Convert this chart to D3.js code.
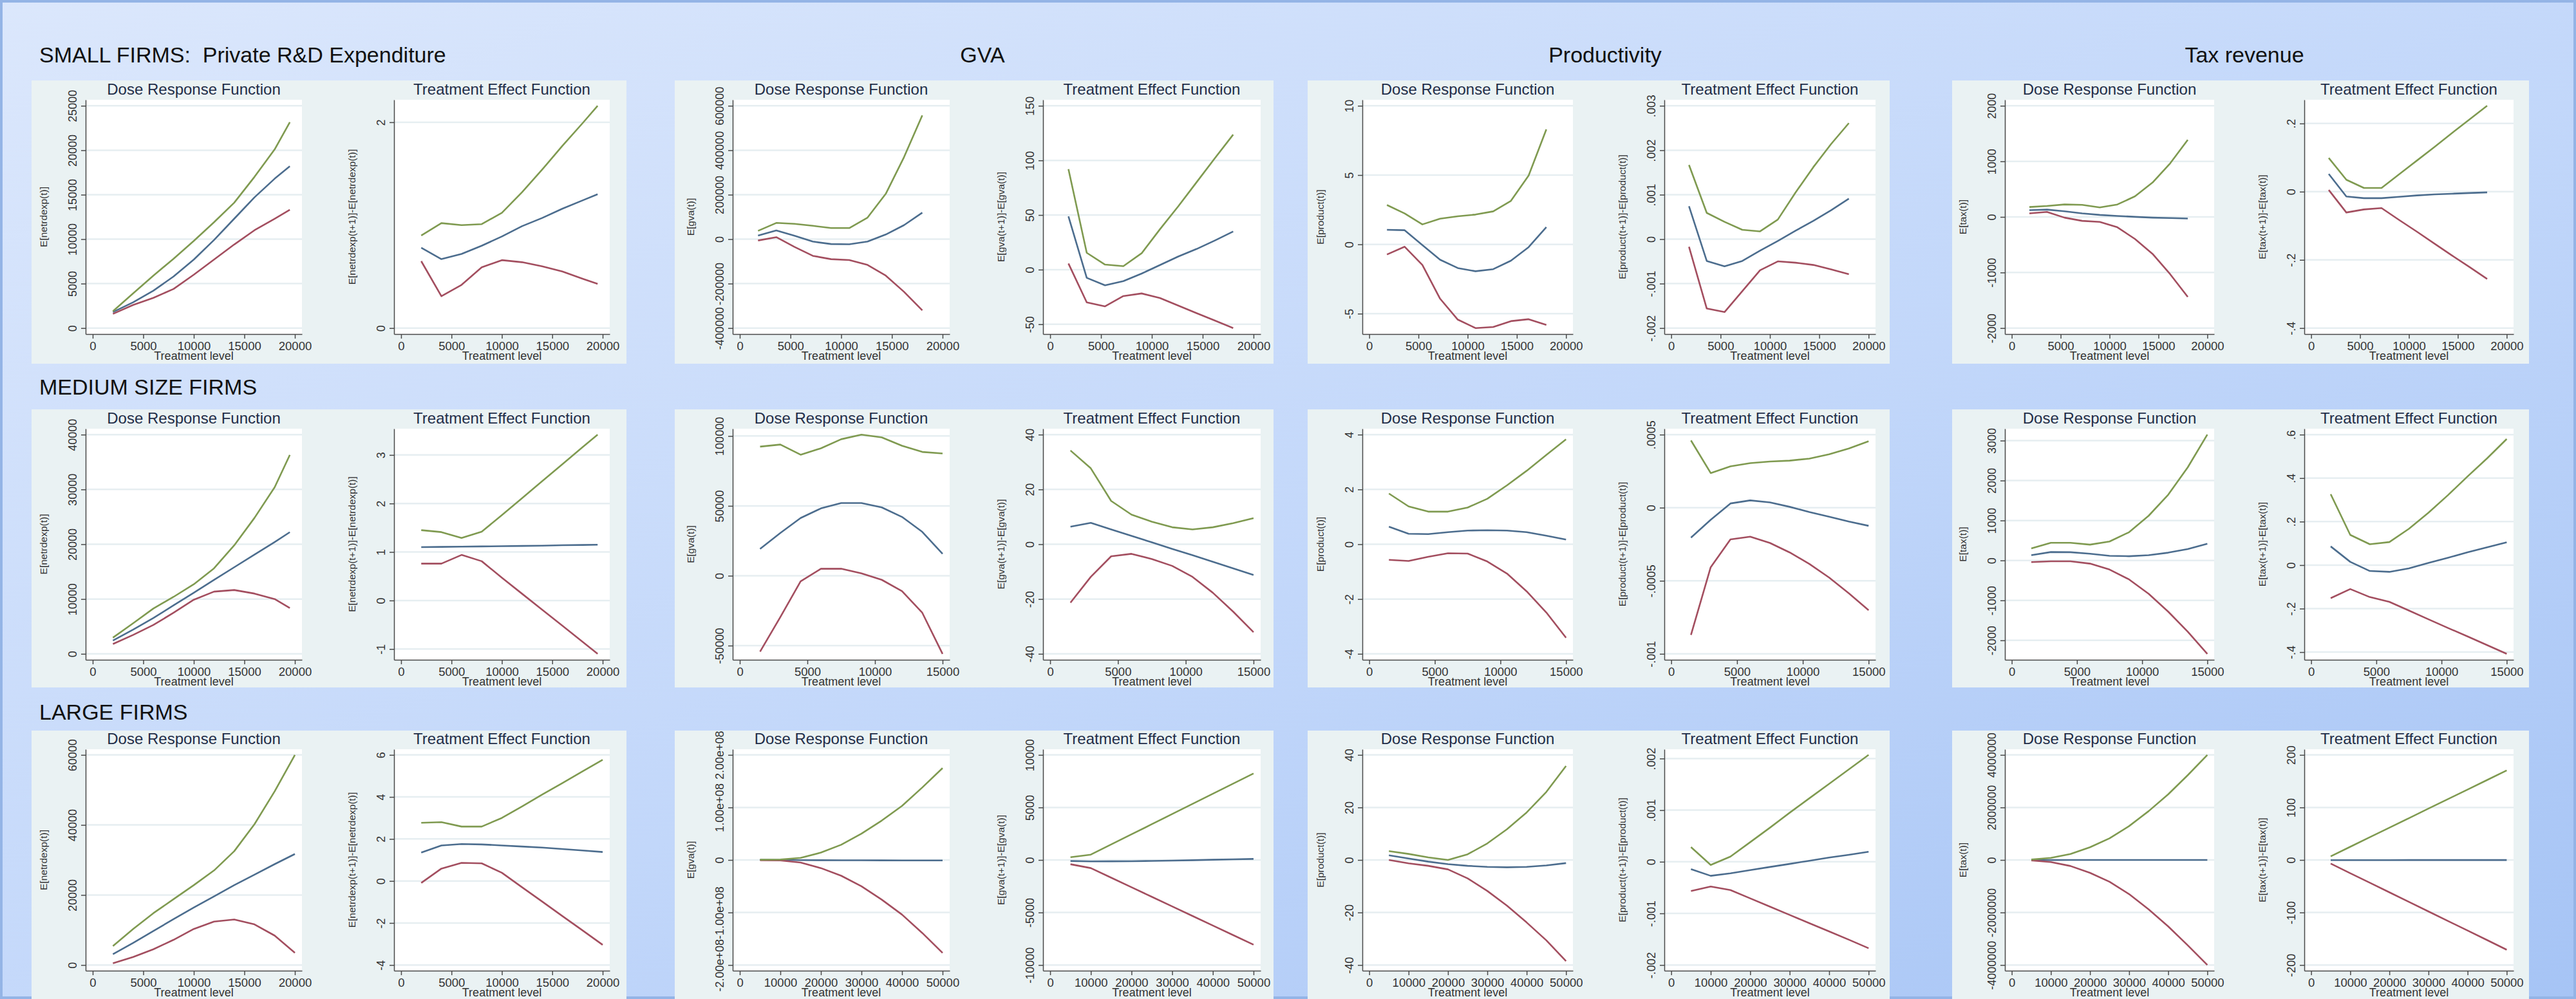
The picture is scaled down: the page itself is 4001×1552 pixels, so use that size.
<!DOCTYPE html>
<html>
<head>
<meta charset="utf-8">
<script src="https://cdn.jsdelivr.net/npm/d3@7"></script>
<style>
  body { margin: 0; }
  svg { display: block; font-family: "Liberation Sans", Arial, sans-serif; }
</style>
</head>
<body>
<svg id="chart" width="4001" height="1552"></svg>
<script>
// treatment levels (x grid) used by each block
const tSmallRd = [2000, 4000, 6000, 8000, 10000, 12000, 14000, 16000, 18000, 19500];
const t1800 = [1800, 3600, 5400, 7200, 9000, 10800, 12600, 14400, 16200, 18000];
const tMedRd = [2000, 4000, 6000, 8000, 10000, 12000, 14000, 16000, 18000, 19500];
const t1500 = [1500, 3000, 4500, 6000, 7500, 9000, 10500, 12000, 13500, 15000];
const tLargeRd = [2000, 4000, 6000, 8000, 10000, 12000, 14000, 16000, 18000, 20000];
const t5000 = [5000, 10000, 15000, 20000, 25000, 30000, 35000, 40000, 45000, 50000];

// each panel: [upper bound, estimate, lower bound]
// SMALL FIRMS
const smallRdDose = [
  [1900, 3900, 5900, 7800, 9800, 11900, 14100, 17000, 20100, 23150],
  [1800, 2900, 4200, 5800, 7700, 9900, 12300, 14700, 16800, 18200],
  [1600, 2600, 3400, 4400, 6000, 7700, 9400, 11000, 12300, 13300]];
const smallRdEffect = [
  [0.90, 1.02, 1.00, 1.01, 1.12, 1.32, 1.54, 1.77, 1.99, 2.16],
  [0.78, 0.67, 0.72, 0.80, 0.89, 0.99, 1.07, 1.16, 1.24, 1.30],
  [0.65, 0.31, 0.42, 0.59, 0.66, 0.64, 0.60, 0.55, 0.48, 0.43]];
const smallGvaDose = [
  [37500, 73000, 69000, 60000, 50000, 50000, 97000, 204000, 369000, 557000],
  [16000, 39000, 15000, -11000, -22000, -23000, -11000, 21000, 63000, 119000],
  [-6000, 9000, -35000, -75000, -90000, -94000, -116000, -164000, -237000, -320000]];
const smallGvaEffect = [
  [92, 15.4, 4.6, 3.2, 15, 37, 58, 80, 102, 123.6],
  [48.8, -7.5, -14.4, -10.5, -3.6, 4.2, 12, 18.9, 26.7, 34.9],
  [5.6, -30, -33.6, -24.2, -21.8, -26, -32.9, -39.8, -46.6, -53.5]];
const smallProdDose = [
  [2.84, 2.23, 1.44, 1.85, 2.03, 2.15, 2.38, 3.14, 4.96, 8.3],
  [1.05, 1.02, -0.05, -1.11, -1.71, -1.94, -1.79, -1.18, -0.2, 1.24],
  [-0.73, -0.17, -1.49, -3.92, -5.43, -6.04, -5.96, -5.54, -5.4, -5.81]];
const smallProdEffect = [
  [0.00167, 0.00059, 0.00039, 0.00021, 0.000175, 0.00044, 0.00105, 0.00162, 0.00214, 0.00261],
  [0.00074, -0.00049, -0.00061, -0.00049, -0.00026, -0.00004, 0.00019, 0.00041, 0.00065, 0.00091],
  [-0.00017, -0.00156, -0.00164, -0.00117, -0.0007, -0.0005, -0.00053, -0.00058, -0.00068, -0.00079]];
const smallTaxDose = [
  [178, 197, 224, 217, 171, 224, 370, 619, 964, 1386],
  [121, 132, 102, 63, 36, 17, 2, -13, -21, -29],
  [63, 90, -13, -71, -90, -186, -397, -665, -1030, -1440]];
const smallTaxEffect = [
  [0.099, 0.035, 0.011, 0.011, 0.051, 0.091, 0.131, 0.172, 0.212, 0.252],
  [0.052, -0.014, -0.019, -0.019, -0.015, -0.011, -0.008, -0.006, -0.004, -0.002],
  [0.005, -0.061, -0.052, -0.048, -0.083, -0.117, -0.152, -0.187, -0.221, -0.256]];

// MEDIUM SIZE FIRMS
const medRdDose = [
  [2960, 5580, 8270, 10400, 12700, 15600, 19800, 24800, 30400, 36300],
  [2420, 4420, 6540, 8850, 11150, 13500, 15800, 18100, 20400, 22200],
  [1800, 3460, 5270, 7500, 9880, 11350, 11650, 11000, 10000, 8350]];
const medRdEffect = [
  [1.45, 1.41, 1.29, 1.42, 1.76, 2.11, 2.46, 2.81, 3.16, 3.42],
  [1.10, 1.105, 1.11, 1.115, 1.12, 1.125, 1.13, 1.14, 1.145, 1.15],
  [0.76, 0.76, 0.94, 0.81, 0.47, 0.14, -0.19, -0.52, -0.85, -1.10]];
const medGvaDose = [
  [92400, 93900, 86600, 91200, 97700, 101000, 99000, 93000, 88600, 87500],
  [19200, 30600, 41300, 48200, 52000, 52000, 48900, 42100, 31400, 15700],
  [-54300, -29600, -4000, 5000, 5000, 1700, -2900, -11000, -26500, -55900]];
const medGvaEffect = [
  [34.2, 27.7, 15.8, 10.8, 8.2, 6.2, 5.4, 6.2, 7.7, 9.5],
  [6.4, 7.8, 5.4, 3.05, 0.7, -1.7, -4.0, -6.4, -8.8, -11.2],
  [-21.3, -11.9, -4.4, -3.5, -5.4, -7.9, -11.9, -17.7, -24.6, -32.1]];
const medProdDose = [
  [1.85, 1.38, 1.19, 1.19, 1.34, 1.66, 2.15, 2.68, 3.26, 3.83],
  [0.64, 0.38, 0.37, 0.44, 0.50, 0.51, 0.50, 0.44, 0.31, 0.17],
  [-0.57, -0.61, -0.46, -0.33, -0.34, -0.63, -1.07, -1.72, -2.49, -3.41]];
const medProdEffect = [
  [0.00046, 0.000237, 0.000283, 0.000305, 0.000316, 0.000322, 0.000336, 0.000365, 0.000405, 0.000455],
  [-0.000205, -0.000083, 0.000029, 0.00005, 0.000036, 0.000006, -0.00003, -0.000062, -0.000095, -0.000124],
  [-0.00087, -0.000407, -0.000217, -0.000198, -0.000241, -0.000306, -0.000385, -0.000478, -0.000586, -0.000701]];
const medTaxDose = [
  [301, 443, 443, 396, 475, 707, 1119, 1646, 2332, 3150],
  [132, 211, 206, 169, 116, 106, 132, 195, 285, 417],
  [-42, -21, -21, -79, -227, -475, -834, -1282, -1784, -2338]];
const medTaxEffect = [
  [0.326, 0.139, 0.096, 0.106, 0.167, 0.241, 0.322, 0.408, 0.491, 0.58],
  [0.086, 0.015, -0.027, -0.031, -0.015, 0.01, 0.034, 0.059, 0.082, 0.105],
  [-0.152, -0.11, -0.147, -0.169, -0.209, -0.249, -0.289, -0.328, -0.368, -0.408]];

// LARGE FIRMS
const largeRdDose = [
  [5400, 10300, 14800, 18800, 22800, 27000, 32500, 40200, 49600, 60000],
  [3100, 6300, 9700, 13100, 16400, 19600, 22800, 25800, 28800, 31700],
  [500, 2300, 4500, 7200, 10300, 12400, 13000, 11600, 8400, 3500]];
const largeRdEffect = [
  [2.77, 2.80, 2.59, 2.59, 3.0, 3.55, 4.11, 4.66, 5.22, 5.77],
  [1.35, 1.69, 1.76, 1.74, 1.69, 1.64, 1.59, 1.52, 1.45, 1.38],
  [-0.09, 0.59, 0.86, 0.84, 0.39, -0.30, -0.98, -1.67, -2.35, -3.04]];
const largeGvaDose = [
  [0.5e6, 0.8e6, 4e6, 14e6, 29e6, 50e6, 75e6, 103e6, 138e6, 175e6],
  [0.3e6, 0, -0.3e6, -0.5e6, -0.6e6, -0.7e6, -0.8e6, -0.9e6, -1e6, -1e6],
  [-0.4e6, -1e6, -5e6, -15.5e6, -30e6, -50e6, -75.5e6, -104e6, -139e6, -177e6]];
const largeGvaEffect = [
  [264, 508, 1474, 2439, 3405, 4370, 5336, 6301, 7267, 8232],
  [-100, -140, -130, -120, -90, -60, -20, 20, 60, 100],
  [-406, -772, -1684, -2596, -3508, -4420, -5333, -6245, -7157, -8069]];
const largeProdDose = [
  [3.35, 2.3, 0.96, 0, 2.15, 6.3, 11.7, 18.1, 25.9, 35.8],
  [1.76, 0.56, -0.64, -1.6, -2.23, -2.63, -2.79, -2.63, -2.08, -1.2],
  [0, -1.28, -2.23, -3.59, -7.02, -11.8, -17.4, -23.8, -30.6, -38.5]];
const largeProdEffect = [
  [0.000284, -0.000061, 0.000101, 0.00038, 0.00066, 0.00095, 0.00123, 0.00151, 0.00179, 0.00207],
  [-0.000142, -0.000272, -0.000223, -0.000162, -0.000101, -0.000041, 0.00002, 0.000081, 0.000134, 0.000195],
  [-0.000568, -0.000479, -0.000548, -0.000709, -0.00087, -0.00103, -0.00119, -0.00135, -0.00151, -0.001675]];
const largeTaxDose = [
  [16000, 81000, 226000, 485000, 824000, 1290000, 1860000, 2500000, 3230000, 4000000],
  [-3000, -2000, -1000, -1000, -1000, -1000, -1000, -1000, -1000, -1000],
  [-16000, -81000, -230000, -490000, -830000, -1300000, -1880000, -2530000, -3250000, -4000000]];
const largeTaxEffect = [
  [6.9, 25.1, 43.3, 61.4, 79.6, 97.8, 116, 134.1, 152.3, 170.5],
  [-0.3, -0.3, -0.3, -0.3, -0.2, -0.2, -0.2, -0.1, -0.1, -0.1],
  [-6.9, -25.2, -43.4, -61.6, -79.8, -98, -116.2, -134.4, -152.6, -171]];

// tick values
const ticksX20 = [0, 5000, 10000, 15000, 20000];
const ticksX15 = [0, 5000, 10000, 15000];
const ticksX50 = [0, 10000, 20000, 30000, 40000, 50000];

const ticksSmallRdDose = [0, 5000, 10000, 15000, 20000, 25000];
const ticksSmallRdEffect = [0, 2];
const ticksSmallGvaDose = [-400000, -200000, 0, 200000, 400000, 600000];
const ticksSmallGvaEffect = [-50, 0, 50, 100, 150];
const ticksSmallProdDose = [-5, 0, 5, 10];
const ticksSmallProdEffect = [-0.002, -0.001, 0, 0.001, 0.002, 0.003];
const ticksSmallTaxDose = [-2000, -1000, 0, 1000, 2000];
const ticksSmallTaxEffect = [-0.4, -0.2, 0, 0.2];

const ticksMedRdDose = [0, 10000, 20000, 30000, 40000];
const ticksMedRdEffect = [-1, 0, 1, 2, 3];
const ticksMedGvaDose = [-50000, 0, 50000, 100000];
const ticksMedGvaEffect = [-40, -20, 0, 20, 40];
const ticksMedProdDose = [-4, -2, 0, 2, 4];
const ticksMedProdEffect = [-0.001, -0.0005, 0, 0.0005];
const ticksMedTaxDose = [-2000, -1000, 0, 1000, 2000, 3000];
const ticksMedTaxEffect = [-0.4, -0.2, 0, 0.2, 0.4, 0.6];

const ticksLargeRdDose = [0, 20000, 40000, 60000];
const ticksLargeRdEffect = [-4, -2, 0, 2, 4, 6];
const ticksLargeGvaDose = [-2e8, -1e8, 0, 1e8, 2e8];
const ticksLargeGvaEffect = [-10000, -5000, 0, 5000, 10000];
const ticksLargeProdDose = [-40, -20, 0, 20, 40];
const ticksLargeProdEffect = [-0.002, -0.001, 0, 0.001, 0.002];
const ticksLargeTaxDose = [-4000000, -2000000, 0, 2000000, 4000000];
const ticksLargeTaxEffect = [-200, -100, 0, 100, 200];

const outcomeTitles = ['GVA', 'Productivity', 'Tax revenue'];
const sizeLabels = ['SMALL FIRMS:  Private R&D Expenditure', 'MEDIUM SIZE FIRMS', 'LARGE FIRMS'];
const yTitles = [
  ['E[netrdexp(t)]', 'E[netrdexp(t+1)]-E[netrdexp(t)]'],
  ['E[gva(t)]', 'E[gva(t+1)]-E[gva(t)]'],
  ['E[product(t)]', 'E[product(t+1)]-E[product(t)]'],
  ['E[tax(t)]', 'E[tax(t+1)]-E[tax(t)]']];

// [upper, estimate, lower]
const lineColors = ['#7f9a50', '#4c6d8e', '#a34e5f'];

// rows x outcomes
const blocks = [
  [
    {t: tSmallRd, dose: smallRdDose, effect: smallRdEffect, dT: ticksSmallRdDose, eT: ticksSmallRdEffect, xT: ticksX20},
    {t: t1800, dose: smallGvaDose, effect: smallGvaEffect, dT: ticksSmallGvaDose, eT: ticksSmallGvaEffect, xT: ticksX20},
    {t: t1800, dose: smallProdDose, effect: smallProdEffect, dT: ticksSmallProdDose, eT: ticksSmallProdEffect, xT: ticksX20},
    {t: t1800, dose: smallTaxDose, effect: smallTaxEffect, dT: ticksSmallTaxDose, eT: ticksSmallTaxEffect, xT: ticksX20}
  ],
  [
    {t: tMedRd, dose: medRdDose, effect: medRdEffect, dT: ticksMedRdDose, eT: ticksMedRdEffect, xT: ticksX20},
    {t: t1500, dose: medGvaDose, effect: medGvaEffect, dT: ticksMedGvaDose, eT: ticksMedGvaEffect, xT: ticksX15},
    {t: t1500, dose: medProdDose, effect: medProdEffect, dT: ticksMedProdDose, eT: ticksMedProdEffect, xT: ticksX15},
    {t: t1500, dose: medTaxDose, effect: medTaxEffect, dT: ticksMedTaxDose, eT: ticksMedTaxEffect, xT: ticksX15}
  ],
  [
    {t: tLargeRd, dose: largeRdDose, effect: largeRdEffect, dT: ticksLargeRdDose, eT: ticksLargeRdEffect, xT: ticksX20},
    {t: t5000, dose: largeGvaDose, effect: largeGvaEffect, dT: ticksLargeGvaDose, eT: ticksLargeGvaEffect, xT: ticksX50},
    {t: t5000, dose: largeProdDose, effect: largeProdEffect, dT: ticksLargeProdDose, eT: ticksLargeProdEffect, xT: ticksX50},
    {t: t5000, dose: largeTaxDose, effect: largeTaxEffect, dT: ticksLargeTaxDose, eT: ticksLargeTaxEffect, xT: ticksX50}
  ]
];

// layout
const W = 4001, H = 1552;
const cols = [
  {x: 49, w: 924, dose: [133, 469], effect: [612, 947]},
  {x: 1048, w: 930, dose: [1138, 1475], effect: [1620, 1958]},
  {x: 2031, w: 904, dose: [2116, 2443], effect: [2585, 2913]},
  {x: 3032, w: 896, dose: [3114, 3439], effect: [3579, 3904]}
];
const rows = [
  {y: 125, h: 440, top: 155, bottom: 519},
  {y: 636, h: 432, top: 666, bottom: 1025},
  {y: 1135, h: 417, top: 1164, bottom: 1508}
];

// stata style tick labels: .002, -.0005, 2.00e+08
function stataFmt(v) {
  if (v === 0) return '0';
  if (Math.abs(v) >= 1e8) {
    return v.toExponential(2).replace(/e([+-])(\d)$/, (m, s, d) => 'e' + s + '0' + d);
  }
  return String(v).replace(/^(-?)0\./, '$1.');
}

const svg = d3.select('#chart');

const grad = svg.append('defs').append('linearGradient')
  .attr('id', 'bg').attr('x1', 0).attr('y1', 0).attr('x2', 1).attr('y2', 1);
grad.append('stop').attr('offset', '0%').attr('stop-color', '#dbe7fc');
grad.append('stop').attr('offset', '55%').attr('stop-color', '#c2d7fa');
grad.append('stop').attr('offset', '100%').attr('stop-color', '#a6c4f5');

svg.append('rect').attr('width', W).attr('height', H).attr('fill', 'url(#bg)');
svg.append('rect')
  .attr('x', 2).attr('y', 2).attr('width', W - 4).attr('height', H - 4)
  .attr('fill', 'none').attr('stroke', '#94b4e6').attr('stroke-width', 4);

function drawPanel(g, {t, series, yTicks, xTicks, left, right, top, bottom, title, yTitle}) {
  const yVals = series.flat().concat(yTicks);
  const [yLo, yHi] = d3.extent(yVals);
  const yPad = (yHi - yLo) * 0.027;
  const y = d3.scaleLinear().domain([yLo - yPad, yHi + yPad]).range([bottom, top]);

  const [xLo, xHi] = d3.extent(t.concat(xTicks));
  const xPad = (xHi - xLo) * 0.035;
  const x = d3.scaleLinear().domain([xLo - xPad, xHi + xPad]).range([left, right]);

  // plot region
  g.append('rect')
    .attr('x', left).attr('y', top)
    .attr('width', right - left).attr('height', bottom - top)
    .attr('fill', '#ffffff');

  // gridlines
  g.append('g').selectAll('line').data(yTicks).join('line')
    .attr('x1', left).attr('x2', right)
    .attr('y1', d => y(d)).attr('y2', d => y(d))
    .attr('stroke', '#e6eef1').attr('stroke-width', 2.5);

  // curves
  const line = d3.line().x((d, i) => x(t[i])).y(d => y(d));
  g.append('g').selectAll('path').data([series[1], series[2], series[0]]).join('path')
    .attr('d', line)
    .attr('fill', 'none')
    .attr('stroke', (d, i) => [lineColors[1], lineColors[2], lineColors[0]][i])
    .attr('stroke-width', 2.6)
    .attr('stroke-linejoin', 'round');

  //y-axis
  const ya = g.append('g')
    .attr('transform', `translate(${left},0)`)
    .call(d3.axisLeft(y).tickValues(yTicks).tickSize(7).tickSizeOuter(0).tickFormat(stataFmt));
  ya.selectAll('text')
    .attr('x', null).attr('dy', null)
    .attr('transform', 'translate(-14,0) rotate(-90)')
    .attr('text-anchor', 'middle')
    .attr('font-size', 18).attr('fill', '#333');

  //x-axis
  const xa = g.append('g')
    .attr('transform', `translate(0,${bottom})`)
    .call(d3.axisBottom(x).tickValues(xTicks).tickSize(7).tickSizeOuter(0).tickFormat(d3.format('d')));
  xa.selectAll('text')
    .attr('y', 25).attr('dy', null)
    .attr('font-size', 18.5).attr('fill', '#333');

  g.selectAll('.domain, .tick line').attr('stroke', '#4a4a4a').attr('stroke-width', 1.5);

  g.append('text')
    .attr('x', (left + right) / 2).attr('y', bottom + 40)
    .attr('text-anchor', 'middle')
    .attr('font-size', 18).attr('fill', '#333')
    .text('Treatment level');

  g.append('text')
    .attr('transform', `translate(${left - 60},${(top + bottom) / 2}) rotate(-90)`)
    .attr('text-anchor', 'middle')
    .attr('font-size', 15.5).attr('fill', '#333')
    .text(yTitle);

  //chart title
  g.append('text')
    .attr('x', (left + right) / 2).attr('y', top - 8)
    .attr('text-anchor', 'middle')
    .attr('font-size', 24).attr('fill', '#1f2d48')
    .text(title);
}

blocks.forEach((rowBlocks, r) => {
  const row = rows[r];
  rowBlocks.forEach((b, c) => {
    const col = cols[c];
    const g = svg.append('g');
    g.append('rect')
      .attr('x', col.x).attr('y', row.y)
      .attr('width', col.w).attr('height', row.h)
      .attr('fill', '#eaf2f3');

    drawPanel(g, {
      t: b.t, series: b.dose, yTicks: b.dT, xTicks: b.xT,
      left: col.dose[0], right: col.dose[1], top: row.top, bottom: row.bottom,
      title: 'Dose Response Function', yTitle: yTitles[c][0]
    });
    drawPanel(g, {
      t: b.t, series: b.effect, yTicks: b.eT, xTicks: b.xT,
      left: col.effect[0], right: col.effect[1], top: row.top, bottom: row.bottom,
      title: 'Treatment Effect Function', yTitle: yTitles[c][1]
    });
  });
});

// section labels
const labelY = [97, 613, 1118];
svg.append('g').selectAll('text').data(sizeLabels).join('text')
  .attr('x', 61).attr('y', (d, i) => labelY[i])
  .attr('font-size', 34).attr('fill', '#111')
  .style('white-space', 'pre')
  .text(d => d);

const headX = [1526, 2493, 3486];
svg.append('g').selectAll('text').data(outcomeTitles).join('text')
  .attr('x', (d, i) => headX[i]).attr('y', 97)
  .attr('text-anchor', 'middle')
  .attr('font-size', 34).attr('fill', '#111')
  .text(d => d);
</script>
</body>
</html>
